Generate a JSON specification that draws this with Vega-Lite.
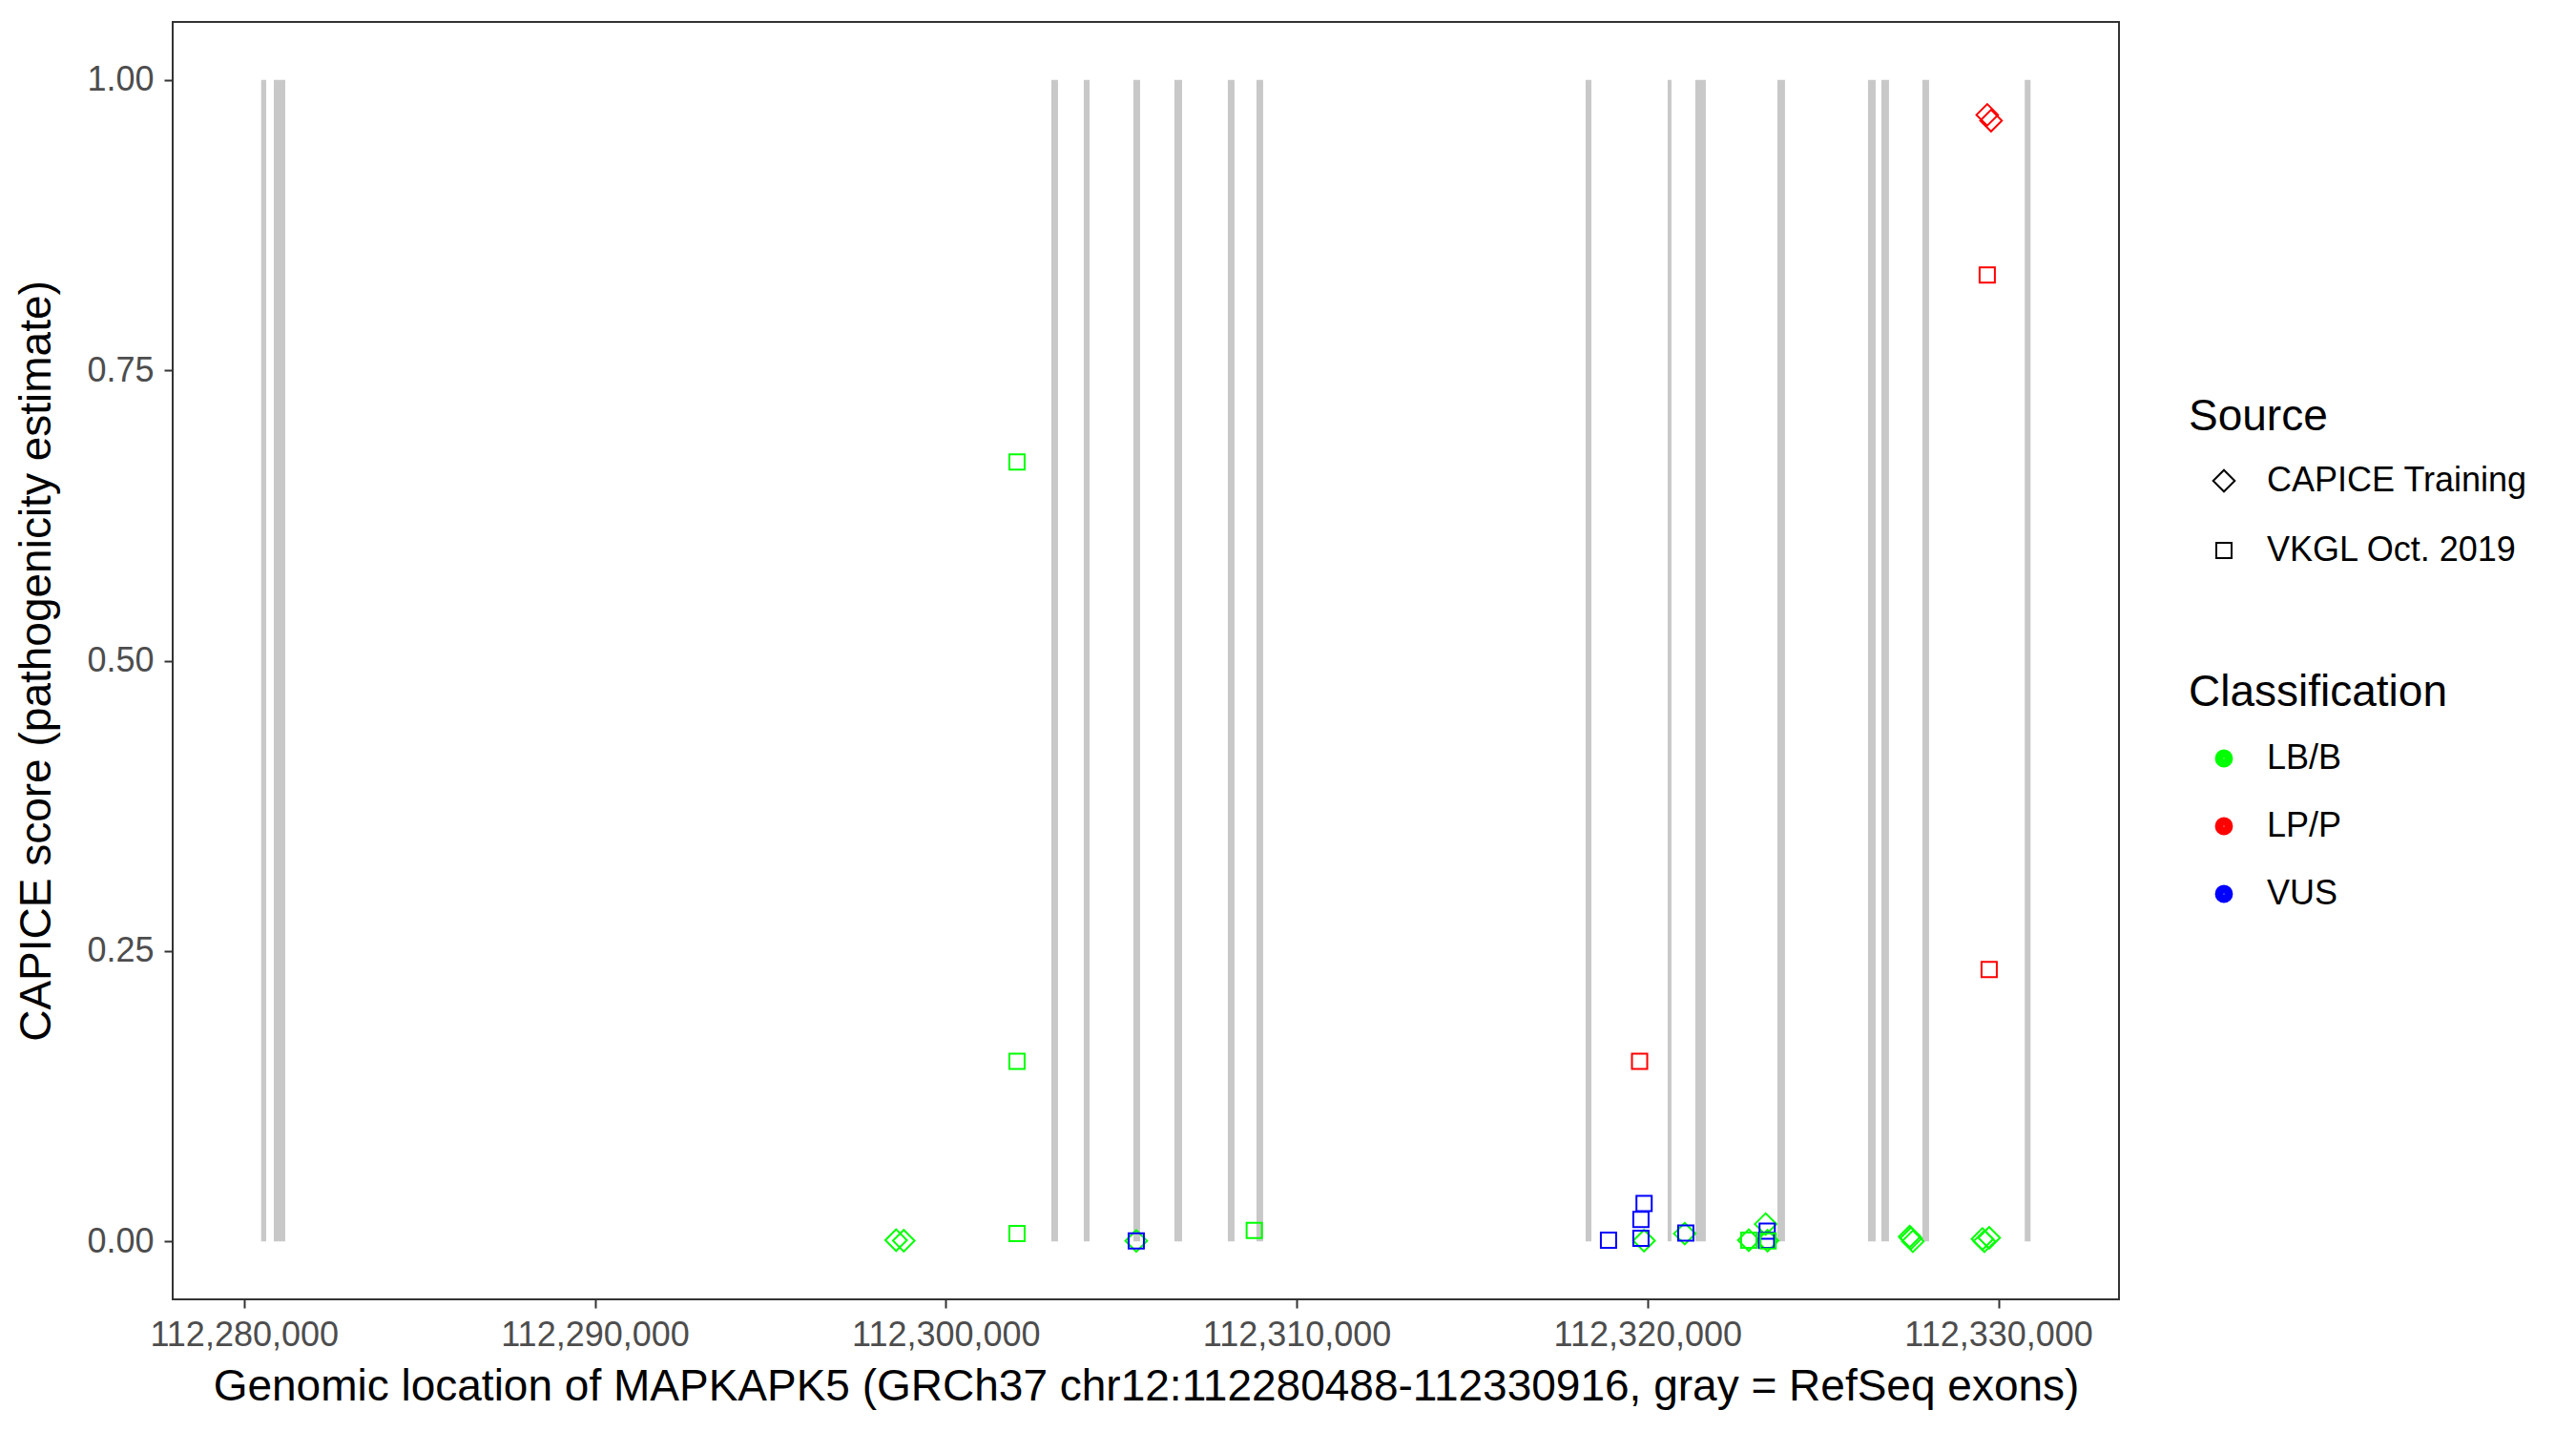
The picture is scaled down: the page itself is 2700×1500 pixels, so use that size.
{
  "$schema": "https://vega.github.io/schema/vega-lite/v6.json",
  "width": 2040,
  "height": 1339,
  "autosize": "none",
  "padding": {"left": 181, "top": 23, "right": 479, "bottom": 138},
  "background": "white",
  "config": {
    "font": "Liberation Sans",
    "view": {"stroke": "#333333", "strokeWidth": 2},
    "axis": {
      "grid": false,
      "domain": false,
      "labelFont": "Liberation Sans",
      "labelFontSize": 36,
      "labelColor": "#4D4D4D",
      "labelLimit": 0,
      "titleLimit": 0,
      "tickColor": "#333333",
      "tickWidth": 2,
      "tickSize": 9,
      "labelPadding": 11,
      "labelFlush": false,
      "labelOverlap": false,
      "titleFont": "Liberation Sans",
      "titleFontSize": 46,
      "titleFontWeight": "normal",
      "titleColor": "#000000"
    },
    "legend": {
      "labelFont": "Liberation Sans",
      "labelFontSize": 36,
      "labelColor": "#000000",
      "labelLimit": 0,
      "titleLimit": 0,
      "titleFont": "Liberation Sans",
      "titleFontSize": 46,
      "titleFontWeight": "normal",
      "titleColor": "#000000",
      "padding": 0
    }
  },
  "datasets": {
    "exons": [
      {"start": 112280488, "end": 112280632},
      {"start": 112280849, "end": 112281175},
      {"start": 112303009, "end": 112303199},
      {"start": 112303933, "end": 112304097},
      {"start": 112305347, "end": 112305538},
      {"start": 112306517, "end": 112306734},
      {"start": 112308039, "end": 112308229},
      {"start": 112308855, "end": 112309045},
      {"start": 112318235, "end": 112318399},
      {"start": 112320574, "end": 112320682},
      {"start": 112321362, "end": 112321661},
      {"start": 112323701, "end": 112323918},
      {"start": 112326284, "end": 112326501},
      {"start": 112326664, "end": 112326882},
      {"start": 112327833, "end": 112328024},
      {"start": 112330750, "end": 112330916}
    ],
    "variants": [
      {"pos": 112298585, "score": 0.001, "source": "CAPICE Training", "classification": "LB/B"},
      {"pos": 112298803, "score": 0.0005, "source": "CAPICE Training", "classification": "LB/B"},
      {"pos": 112305429, "score": 0.0003, "source": "CAPICE Training", "classification": "LB/B"},
      {"pos": 112319902, "score": 0.0005, "source": "CAPICE Training", "classification": "LB/B"},
      {"pos": 112321060, "score": 0.0066, "source": "CAPICE Training", "classification": "LB/B"},
      {"pos": 112322885, "score": 0.001, "source": "CAPICE Training", "classification": "LB/B"},
      {"pos": 112323366, "score": 0.0148, "source": "CAPICE Training", "classification": "LB/B"},
      {"pos": 112323420, "score": 0.0005, "source": "CAPICE Training", "classification": "LB/B"},
      {"pos": 112327472, "score": 0.004, "source": "CAPICE Training", "classification": "LB/B"},
      {"pos": 112327507, "score": 0.0025, "source": "CAPICE Training", "classification": "LB/B"},
      {"pos": 112327562, "score": 0.0, "source": "CAPICE Training", "classification": "LB/B"},
      {"pos": 112329546, "score": 0.002, "source": "CAPICE Training", "classification": "LB/B"},
      {"pos": 112329601, "score": 0.0, "source": "CAPICE Training", "classification": "LB/B"},
      {"pos": 112329737, "score": 0.003, "source": "CAPICE Training", "classification": "LB/B"},
      {"pos": 112302030, "score": 0.671, "source": "VKGL Oct. 2019", "classification": "LB/B"},
      {"pos": 112302030, "score": 0.155, "source": "VKGL Oct. 2019", "classification": "LB/B"},
      {"pos": 112302030, "score": 0.0066, "source": "VKGL Oct. 2019", "classification": "LB/B"},
      {"pos": 112308792, "score": 0.0093, "source": "VKGL Oct. 2019", "classification": "LB/B"},
      {"pos": 112322885, "score": 0.001, "source": "VKGL Oct. 2019", "classification": "LB/B"},
      {"pos": 112305429, "score": 0.0003, "source": "VKGL Oct. 2019", "classification": "VUS"},
      {"pos": 112318888, "score": 0.001, "source": "VKGL Oct. 2019", "classification": "VUS"},
      {"pos": 112319812, "score": 0.0189, "source": "VKGL Oct. 2019", "classification": "VUS"},
      {"pos": 112319902, "score": 0.0325, "source": "VKGL Oct. 2019", "classification": "VUS"},
      {"pos": 112319812, "score": 0.0025, "source": "VKGL Oct. 2019", "classification": "VUS"},
      {"pos": 112321090, "score": 0.007, "source": "VKGL Oct. 2019", "classification": "VUS"},
      {"pos": 112323410, "score": 0.0088, "source": "VKGL Oct. 2019", "classification": "VUS"},
      {"pos": 112323390, "score": 0.001, "source": "VKGL Oct. 2019", "classification": "VUS"},
      {"pos": 112323437, "score": 0.0003, "source": "VKGL Oct. 2019", "classification": "LB/B"},
      {"pos": 112329682, "score": 0.970, "source": "CAPICE Training", "classification": "LP/P"},
      {"pos": 112329791, "score": 0.965, "source": "CAPICE Training", "classification": "LP/P"},
      {"pos": 112319774, "score": 0.155, "source": "VKGL Oct. 2019", "classification": "LP/P"},
      {"pos": 112329682, "score": 0.832, "source": "VKGL Oct. 2019", "classification": "LP/P"},
      {"pos": 112329737, "score": 0.234, "source": "VKGL Oct. 2019", "classification": "LP/P"}
    ]
  },
  "layer": [
    {
      "data": {"name": "exons"},
      "mark": {"type": "rect", "color": "#C8C8C8"},
      "encoding": {
        "x": {
          "field": "start",
          "type": "quantitative",
          "scale": {"domain": [112277967, 112333437], "nice": false, "zero": false},
          "axis": {
            "title": "Genomic location of MAPKAPK5 (GRCh37 chr12:112280488-112330916, gray = RefSeq exons)",
            "values": [112280000, 112290000, 112300000, 112310000, 112320000, 112330000],
            "format": ",d",
            "titlePadding": 14
          }
        },
        "x2": {"field": "end"},
        "y": {
          "datum": 0,
          "type": "quantitative",
          "scale": {"domain": [-0.05, 1.05], "nice": false, "zero": false},
          "axis": {
            "title": "CAPICE score (pathogenicity estimate)",
            "values": [0, 0.25, 0.5, 0.75, 1],
            "format": ".2f",
            "titlePadding": 28
          }
        },
        "y2": {"datum": 1}
      }
    },
    {
      "data": {"name": "variants"},
      "mark": {"type": "point", "filled": false, "strokeWidth": 2, "size": 256, "opacity": 1},
      "encoding": {
        "x": {"field": "pos", "type": "quantitative"},
        "y": {"field": "score", "type": "quantitative"},
        "shape": {
          "field": "source",
          "type": "nominal",
          "scale": {
            "domain": ["CAPICE Training", "VKGL Oct. 2019"],
            "range": ["M-1.414,0L0,-1.414L1.414,0L0,1.414Z", "square"]
          },
          "legend": {
            "title": "Source",
            "orient": "none",
            "legendX": 2113,
            "legendY": 392,
            "symbolOffset": 19,
            "labelOffset": 27,
            "titlePadding": 25,
            "rowPadding": 37,
            "symbolSize": 256,
            "symbolStrokeWidth": 2,
            "symbolStrokeColor": "#000000",
            "symbolFillColor": "transparent"
          }
        },
        "color": {
          "field": "classification",
          "type": "nominal",
          "scale": {
            "domain": ["LB/B", "LP/P", "VUS"],
            "range": ["#00FF00", "#FF0000", "#0000FF"]
          },
          "legend": {
            "title": "Classification",
            "orient": "none",
            "legendX": 2113,
            "legendY": 681,
            "symbolType": "circle",
            "symbolSize": 79,
            "symbolStrokeWidth": 10,
            "symbolOffset": 19,
            "labelOffset": 27,
            "titlePadding": 27,
            "rowPadding": 21
          }
        }
      }
    }
  ]
}
